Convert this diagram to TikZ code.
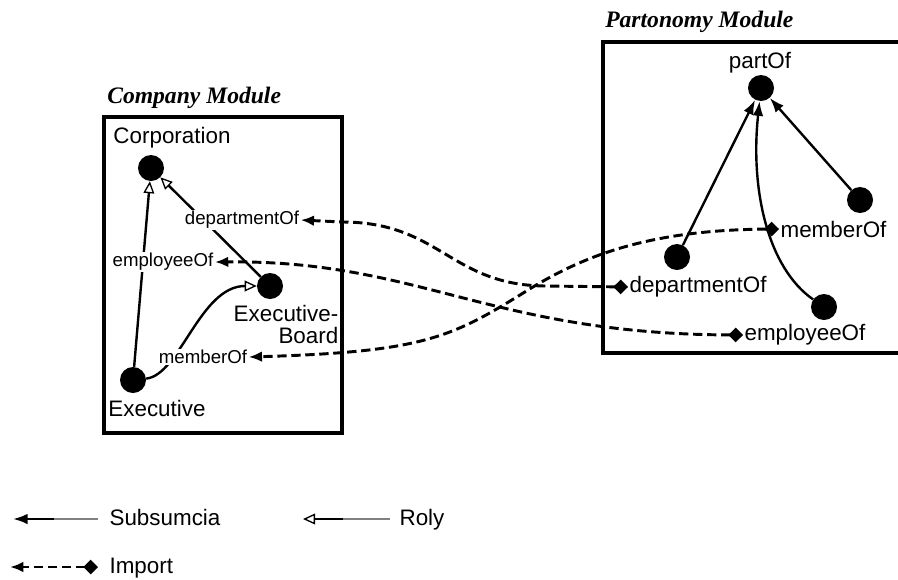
\documentclass[tikz,border=0pt]{standalone}
\usepackage{fontspec}
\setmainfont{Liberation Sans}
\newfontfamily\titlefont{Liberation Serif}
\usetikzlibrary{arrows.meta,shapes.geometric}

\begin{document}
\begin{tikzpicture}[x=0.75pt,y=-0.75pt,
  module/.style={draw,line width=2.6pt},
  dot/.style={circle,fill=black,inner sep=0pt,minimum size=19.5pt},
  conceptlbl/.style={font=\fontsize{16.8}{16.5}\selectfont,inner sep=1pt},
  rolelbl/.style={font=\fontsize{14}{16}\selectfont,fill=white,inner sep=1pt},
  proplbl/.style={font=\fontsize{16.8}{20}\selectfont,inner sep=1pt,anchor=west},
  modtitle/.style={font=\titlefont\bfseries\itshape\fontsize{17.7}{20}\selectfont,anchor=base west,inner sep=0pt},
  subs/.style={line width=1.8pt,-{Latex[length=11pt,width=8pt]}},
  rolearrow/.style={line width=1.8pt,-{Triangle[open,length=9pt,width=8pt,line width=1pt,fill=white]}},
  imp/.style={line width=2.2pt,dash pattern=on 7pt off 3.5pt,{Diamond[length=11pt,width=11pt]}-{Latex[length=10pt,width=8pt]}},
  legendtail/.style={line width=1.5pt,black!50}
]
\useasboundingbox (0,0) rectangle (898,579);

% module frames
\draw[module] (104,117) rectangle (342,433);
\draw[module] (898,42) -- (603,42) -- (603,353) -- (898,353);
\node[modtitle] (ctitle) at (107,103) {Company Module};
\node[modtitle] (ptitle) at (605,27) {Partonomy Module};

% company module concepts
\node[dot] (corp) at (151,168) {};
\node[conceptlbl] (corpL) at (172,138) {Corporation};
\node[dot] (board) at (270,286) {};
\node[conceptlbl,align=right] (boardL) at (286,324) {Executive-\\Board};
\node[dot] (exec) at (133,380) {};
\node[conceptlbl] (execL) at (157,408) {Executive};

% roles between concepts
\draw[rolearrow] (exec) -- (corp);
\draw[rolearrow] (board) -- (corp);
\draw[rolearrow] (exec) .. controls (180,375) and (200,286) .. (board);
\node[rolelbl] (cDept) at (242,220) {departmentOf};
\node[rolelbl] (cEmp) at (163,262) {employeeOf};
\node[rolelbl] (cMem) at (203,357) {memberOf};

% partonomy module
\node[dot] (partof) at (761,88) {};
\node[conceptlbl] (partofL) at (760,63) {partOf};
\node[dot] (pdeptD) at (677,257) {};
\node[dot] (pmemD) at (860,200) {};
\node[dot] (pempD) at (824,307) {};
\draw[subs] (pdeptD) -- (partof);
\draw[subs] (pmemD) -- (partof);
\draw[subs] (pempD) .. controls (768,268) and (750,190) .. (partof);
\node[proplbl] (pMem) at (779,229) {memberOf};
\node[proplbl] (pDept) at (628,287) {departmentOf};
\node[proplbl] (pEmp) at (743,335) {employeeOf};

% imports
\draw[imp] (pDept.west) -- (545,286) .. controls (450,285) and (440,222) .. (342,222) -- (cDept.east);
\draw[imp] (pEmp.west) .. controls (490,334) and (420,260) .. (cEmp.east);
\draw[imp] (pMem.west) .. controls (640,230) and (575,260) .. (520,295) .. controls (450,338) and (420,352) .. (cMem.east);

% legend
\coordinate (s1) at (98,519); \coordinate (s0) at (13,519);
\draw[subs] (s1) -- (s0);
\draw[legendtail] (54,519) -- (s1);
\node[conceptlbl,anchor=base west] (lSubs) at (108,525) {Subsumcia};
\coordinate (r1) at (390,519); \coordinate (r0) at (303,519);
\draw[rolearrow] (r1) -- (r0);
\draw[legendtail] (343,519) -- (r1);
\node[conceptlbl,anchor=base west] (lRoly) at (398,525) {Roly};
\coordinate (i1) at (98,567); \coordinate (i0) at (10,567);
\draw[imp] (i1) -- (i0);
\node[conceptlbl,anchor=base west] (lImp) at (108,573) {Import};
\end{tikzpicture}
\end{document}
